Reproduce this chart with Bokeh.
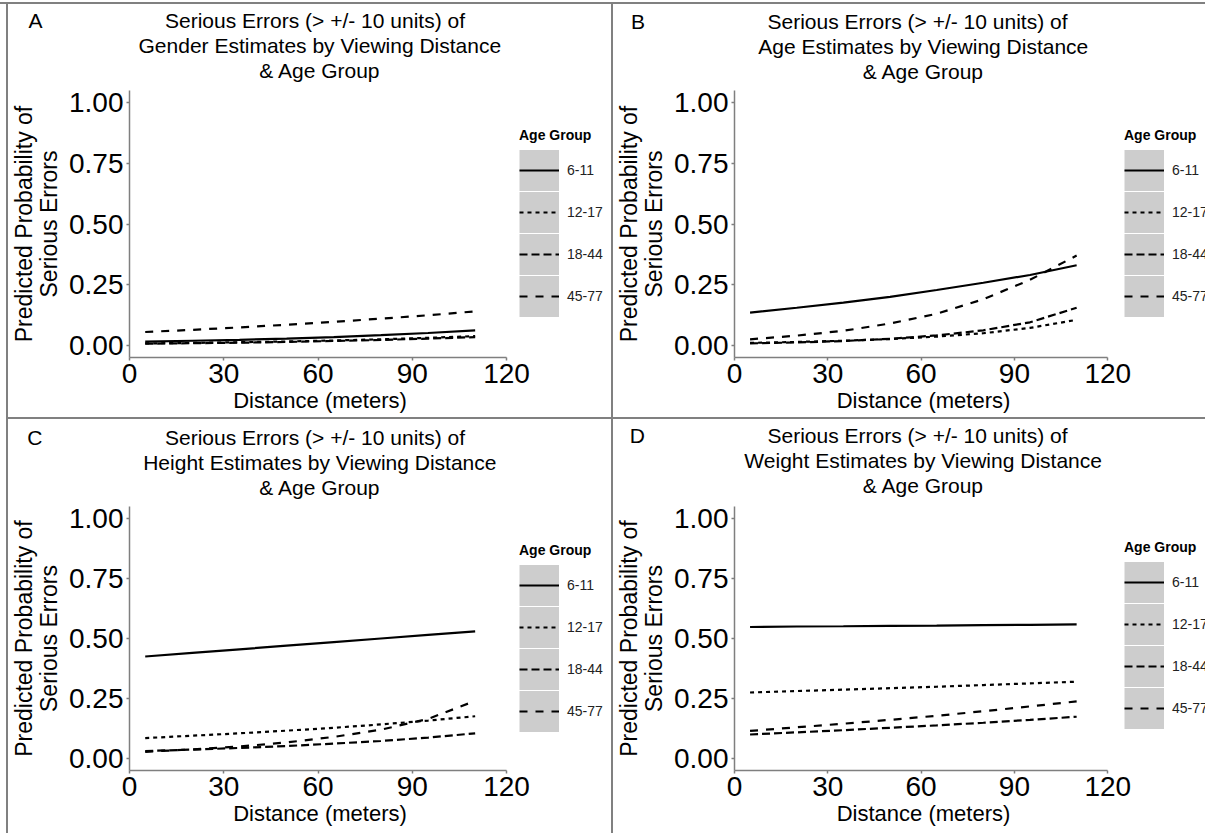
from bokeh.plotting import figure
from bokeh.layouts import column, row
from bokeh.models import (Range1d, FixedTicker, NumeralTickFormatter, Legend,
                          LegendItem, Title, Spacer)
from bokeh.embed import file_html
from bokeh.resources import INLINE

# ---------------- data ----------------
distance = [5, 20, 35, 50, 65, 80, 95, 110]
age_groups = ["6-11", "12-17", "18-44", "45-77"]
x_ticks = [0, 30, 60, 90, 120]
y_ticks = [0.0, 0.25, 0.5, 0.75, 1.0]

gender_6_11 = [0.015, 0.019, 0.023, 0.028, 0.034, 0.042, 0.051, 0.062]
gender_12_17 = [0.008, 0.010, 0.013, 0.016, 0.020, 0.025, 0.031, 0.038]
gender_18_44 = [0.007, 0.009, 0.011, 0.014, 0.018, 0.022, 0.028, 0.034]
gender_45_77 = [0.055, 0.064, 0.074, 0.085, 0.097, 0.110, 0.124, 0.140]

age_6_11 = [0.135, 0.155, 0.176, 0.200, 0.228, 0.258, 0.290, 0.330]
age_12_17 = [0.010, 0.014, 0.019, 0.026, 0.036, 0.050, 0.072, 0.105]
age_18_44 = [0.008, 0.012, 0.018, 0.027, 0.041, 0.062, 0.095, 0.155]
age_45_77 = [0.025, 0.040, 0.060, 0.090, 0.130, 0.190, 0.270, 0.370]

height_6_11 = [0.425, 0.440, 0.455, 0.470, 0.485, 0.500, 0.515, 0.530]
height_12_17 = [0.085, 0.095, 0.105, 0.116, 0.128, 0.142, 0.158, 0.176]
height_18_44 = [0.031, 0.037, 0.044, 0.052, 0.062, 0.073, 0.087, 0.105]
height_45_77 = [0.028, 0.038, 0.050, 0.067, 0.090, 0.120, 0.165, 0.240]

weight_6_11 = [0.548, 0.550, 0.551, 0.553, 0.554, 0.556, 0.557, 0.559]
weight_12_17 = [0.275, 0.281, 0.287, 0.293, 0.299, 0.306, 0.313, 0.320]
weight_18_44 = [0.100, 0.109, 0.118, 0.128, 0.138, 0.149, 0.161, 0.174]
weight_45_77 = [0.115, 0.130, 0.145, 0.161, 0.178, 0.197, 0.217, 0.238]

title_line1 = "Serious Errors (> +/- 10 units) of"
title_line2 = ["Gender Estimates by Viewing Distance",
               "Age Estimates by Viewing Distance",
               "Height Estimates by Viewing Distance",
               "Weight Estimates by Viewing Distance"]
title_line3 = "& Age Group"
x_label = "Distance (meters)"
y_label = "Predicted Probability of\nSerious Errors"
letters = ["A", "B", "C", "D"]
series = [
    [gender_6_11, gender_12_17, gender_18_44, gender_45_77],
    [age_6_11, age_12_17, age_18_44, age_45_77],
    [height_6_11, height_12_17, height_18_44, height_45_77],
    [weight_6_11, weight_12_17, weight_18_44, weight_45_77],
]

# ---------------- styles / layout ----------------
FONT = "Liberation Sans"
dashes = ["solid", "4 4", "8 4", "8 8"]
AXIS_GRAY = "#7F7F7F"
PANEL_GRAY = "#808080"
KEY_GRAY = "#CDCDCD"
NAN = float("nan")
NBSP = "\u00a0"

# Arial / Liberation Sans advance widths (1/1000 em) for text placement
_W = {" ": 278, NBSP: 278, "&": 667, "(": 333, ")": 333, "+": 584, "-": 333,
      "/": 278, ">": 584, "A": 667, "B": 667, "C": 722, "D": 722, "E": 667,
      "G": 778, "H": 722, "S": 667, "V": 667, "W": 944, "a": 556, "b": 556,
      "c": 500, "d": 556, "e": 556, "f": 278, "g": 556, "h": 556, "i": 222,
      "l": 222, "m": 833, "n": 556, "o": 556, "p": 556, "r": 333, "s": 500,
      "t": 278, "u": 556, "w": 722, "y": 500}


def text_w(s, px):
    return sum(_W.get(ch, 556) for ch in s) * px / 1000.0


# W,H: figure size; bl,bt,bb: borders; fw: x-axis pixel length (0..120);
# sp: gap title->frame; leg: legend position from frame bottom-left
geom = [
    dict(W=603, H=413, bl=116, bt=86, bb=60, fw=381, sp=6, leg=(390, 40)),
    dict(W=592, H=413, bl=115, bt=85, bb=60, fw=378, sp=5, leg=(390, 40)),
    dict(W=603, H=414, bl=116, bt=85, bb=63, fw=381, sp=5, leg=(390, 38)),
    dict(W=592, H=414, bl=115, bt=87, bb=60, fw=378, sp=7, leg=(390, 41)),
]
GLYPH_W, GLYPH_H = 40, 42
LETTER_X = -96          # letter left edge relative to the frame's left edge
TITLE_PX, XLAB_PX = 21, 22


def make_title(text, size, standoff, align="left", offset=0, **kw):
    return Title(text=text, align=align, offset=offset, standoff=standoff,
                 text_font=FONT, text_font_size=f"{size}px",
                 text_font_style="normal", **kw)


figs = []
for i in range(4):
    g = geom[i]
    frame_w = g["W"] - g["bl"]               # frame runs to the figure's right edge
    x_end = 120.0 * frame_w / g["fw"]
    centre = g["fw"] / 2.0                    # centre of the 0..120 axis, px from frame left

    p = figure(width=g["W"], height=g["H"], output_backend="svg",
               toolbar_location=None,
               x_range=Range1d(0, x_end), y_range=Range1d(-0.05, 1.05),
               min_border_left=g["bl"], min_border_right=0,
               min_border_top=g["bt"], min_border_bottom=g["bb"],
               y_axis_label=y_label)
    p.outline_line_color = None
    p.grid.visible = False
    p.background_fill_color = "white"
    p.border_fill_color = "white"

    # ---- title rows, from the frame outwards ----
    p.add_layout(make_title(NBSP, 1, g["sp"], text_color="white"), "above")
    for txt in (title_line3, title_line2[i]):
        off = centre - text_w(txt, TITLE_PX) / 2.0
        p.add_layout(make_title(txt, TITLE_PX, 0, offset=off,
                                text_color="black"), "above")
    # first row carries the panel letter at its far left
    w1 = text_w(title_line1, TITLE_PX)
    n_sp = int(round((centre + w1 / 2.0 - w1 - text_w(letters[i], TITLE_PX)
                      - LETTER_X) / text_w(NBSP, TITLE_PX)))
    p.title.text = letters[i] + NBSP * n_sp + title_line1
    p.title.align = "right"
    p.title.offset = frame_w - (centre + w1 / 2.0)
    p.title.text_font = FONT
    p.title.text_font_size = f"{TITLE_PX}px"
    p.title.text_font_style = "normal"
    p.title.text_color = "black"
    p.title.standoff = 0

    # x-axis label as a title row below the axis, centred on 0..120
    p.add_layout(make_title(x_label, XLAB_PX, 4,
                            offset=centre - text_w(x_label, XLAB_PX) / 2.0,
                            vertical_align="top", text_color="black"), "below")

    p.xaxis.bounds = (0, 120)
    p.xaxis.ticker = FixedTicker(ticks=x_ticks)
    p.yaxis.ticker = FixedTicker(ticks=y_ticks)
    p.yaxis.formatter = NumeralTickFormatter(format="0.00")
    for ax in p.axis:
        ax.axis_line_color = AXIS_GRAY
        ax.axis_line_width = 1.5
        ax.major_tick_line_color = AXIS_GRAY
        ax.major_tick_line_width = 1.5
        ax.major_tick_out = 3
        ax.major_tick_in = 0
        ax.minor_tick_line_color = None
        ax.major_label_text_font = FONT
        ax.major_label_text_font_size = "28px"
        ax.major_label_text_color = "black"
        ax.axis_label_text_font = FONT
        ax.axis_label_text_font_size = "23px"
        ax.axis_label_text_font_style = "normal"
        ax.axis_label_text_color = "black"
        ax.axis_label_text_line_height = 0.95
        ax.axis_label_text_align = "center"
    p.xaxis.major_label_standoff = 3
    p.yaxis.major_label_standoff = 3
    p.yaxis.axis_label_standoff = 4

    items = []
    for lab, ys, dash in zip(age_groups, series[i], dashes):
        # grey key background: a NaN line (draws nothing in the plot area)
        key_bg = p.line([NAN, NAN], [NAN, NAN], line_color=KEY_GRAY,
                        line_width=GLYPH_H - 1)
        r = p.line(distance, ys, line_color="black", line_width=2.2,
                   line_dash=dash)
        items.append(LegendItem(label=lab, renderers=[key_bg, r]))

    leg = Legend(items=items, location=g["leg"], title="Age Group",
                 title_text_font=FONT, title_text_font_size="14px",
                 title_text_font_style="bold", title_text_color="black",
                 title_standoff=6,
                 label_text_font=FONT, label_text_font_size="14px",
                 label_text_color="#222222",
                 glyph_width=GLYPH_W, glyph_height=GLYPH_H,
                 label_standoff=8, spacing=0, padding=0, margin=0,
                 border_line_color=None, background_fill_alpha=0.0)
    p.add_layout(leg)
    figs.append(p)


def vline(h):
    return Spacer(width=2, height=h, styles={"background-color": PANEL_GRAY})


top_pad = Spacer(width=1205, height=2)
top_line = Spacer(width=1205, height=2, styles={"background-color": PANEL_GRAY})
left_pad = Spacer(width=6, height=829)
left_line = Spacer(width=2, height=829, styles={"background-color": PANEL_GRAY})
mid_line = Spacer(width=1197, height=2, styles={"background-color": PANEL_GRAY})

panels = column(row(figs[0], vline(413), figs[1]), mid_line,
                row(figs[2], vline(414), figs[3]))
page = column(top_pad, top_line, row(left_pad, left_line, panels))

open("out.html", "w").write(file_html(page, INLINE))
